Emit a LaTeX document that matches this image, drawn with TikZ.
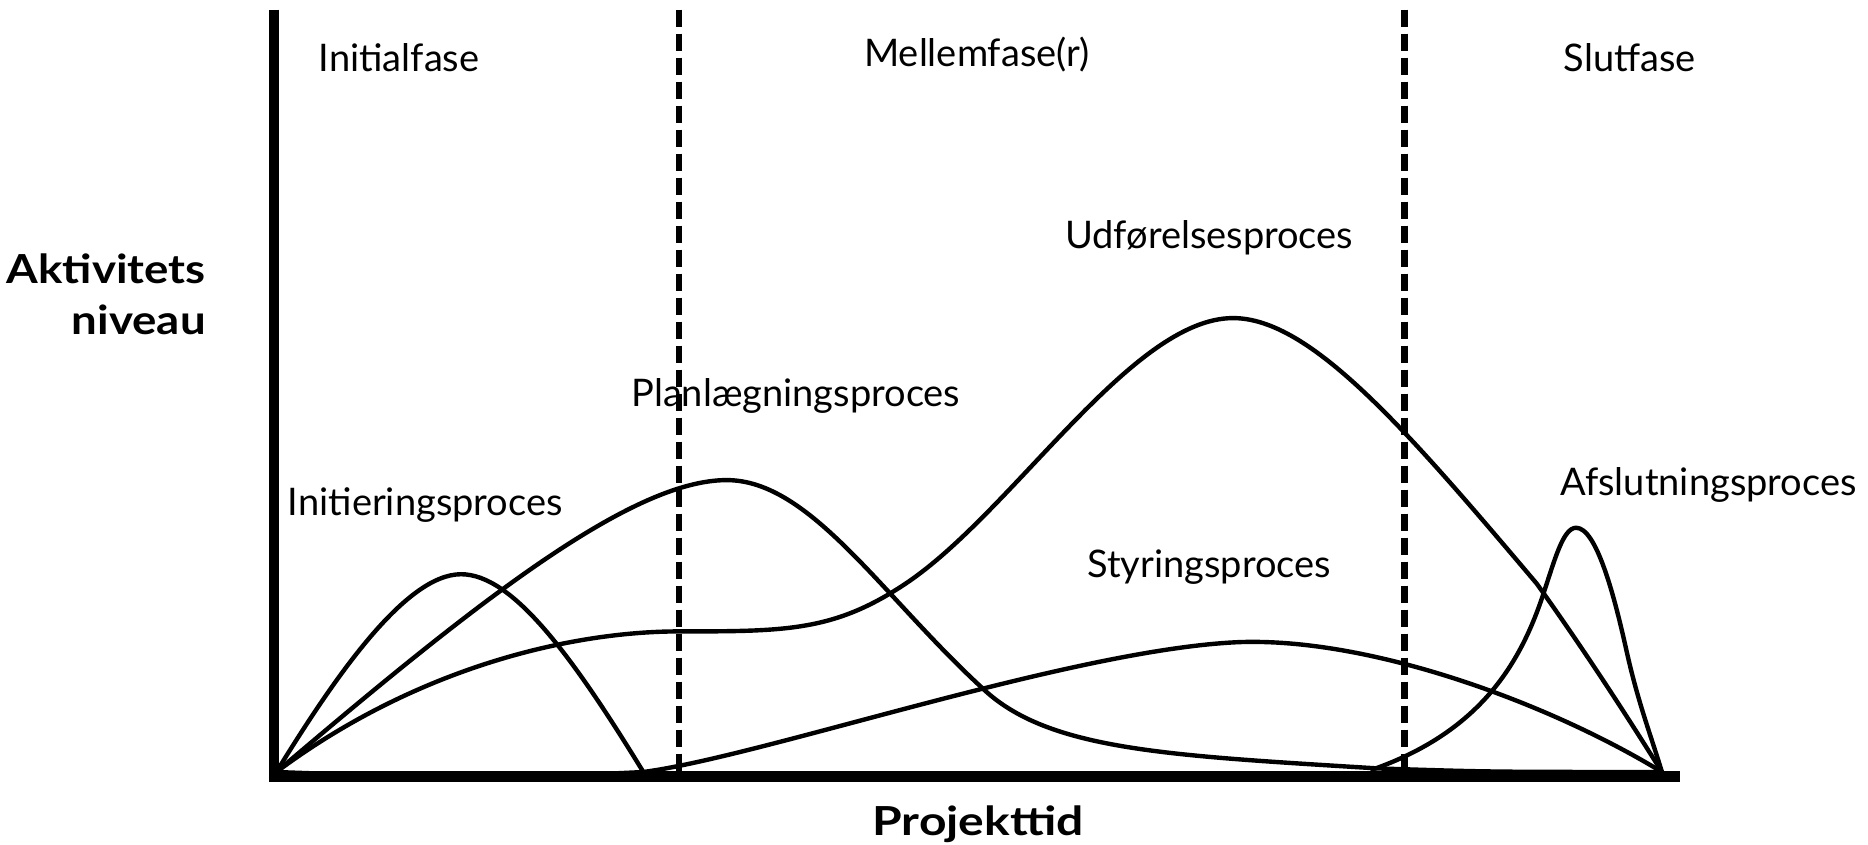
\documentclass[tikz,border=0pt]{standalone}
\usepackage{fontspec}
\setmainfont{Lato}
\begin{document}
\begin{tikzpicture}[x=0.59566pt,y=-0.59566pt,
  lbl/.style={font=\fontsize{19}{23}\selectfont, inner sep=0pt},
  axlbl/.style={font=\fontsize{20}{24}\selectfont\bfseries, inner sep=0pt},
  axisline/.style={line width=5.4pt},
  divider/.style={line width=3.2pt, dash pattern=on 8.8pt off 3.2pt},
  curve/.style={line width=2.2pt, line join=round, line cap=round}]
\useasboundingbox (0,0) rectangle (1568,708.46);
\fill[white] (0,0) rectangle (1568,708.46);

% axes
\coordinate (O) at (232,648);
\coordinate (E) at (1395,648);
\coordinate (ytop) at (230,8);
\coordinate (ybot) at (230,656);
\coordinate (xleft) at (228,652);
\coordinate (xright) at (1410,652);
\draw[axisline] (ytop) -- (ybot);
\draw[axisline] (xleft) -- (xright);

% phase dividers
\coordinate (d1t) at (570,8);
\coordinate (d1b) at (570,648);
\coordinate (d2t) at (1179,8);
\coordinate (d2b) at (1179,648);
\draw[divider] (d1t) -- (d1b);
\draw[divider] (d2t) -- (d2b);

% phase names
\node[lbl] (initial) at (335,48) {Initialfase};
\node[lbl] (mellem) at (820,46) {Mellemfase(r)};
\node[lbl] (slut) at (1368,48) {Slutfase};

% axis titles
\node[axlbl, anchor=base east] (yl1) at (173,238) {\scalebox{1.14}[1]{Aktivitets}};
\node[axlbl, anchor=base east] (yl2) at (173,281) {\scalebox{1.14}[1]{niveau}};
\node[axlbl, anchor=base] (xl) at (821,701) {\scalebox{1.2}[1]{Projekttid}};

% process names
\node[lbl] (udf) at (1015,200) {Udførelsesproces};
\node[lbl] (plan) at (668,332) {Planlægningsproces};
\node[lbl] (init) at (357,424) {Initieringsproces};
\node[lbl] (styr) at (1015,476) {Styringsproces};
\node[lbl] (afsl) at (1434,407) {Afslutningsproces};

% Initieringsproces
\draw[curve] (O) .. controls (280,570) and (340,482) .. (387,482)
  .. controls (430,482) and (480,550) .. (540,648);

% Planlægningsproces
\draw[curve] (O) .. controls (400,505) and (530,403) .. (610,403)
  .. controls (680,403) and (740,500) .. (825,578)
  .. controls (880,630) and (980,634) .. (1156,645)
  .. controls (1250,648) .. (E);

% Udførelsesproces
\draw[curve] (O) .. controls (350,560) and (480,530) .. (570,530)
  .. controls (660,530) and (700,530) .. (760,490)
  .. controls (850,430) and (950,267) .. (1035,267)
  .. controls (1100,267) and (1180,360) .. (1290,490)
  .. controls (1330,546) and (1365,600) .. (E);

% Styringsproces
\draw[curve] (O) .. controls (330,652) and (450,653) .. (540,648)
  .. controls (640,635) and (900,545) .. (1040,539)
  .. controls (1150,535) and (1300,590) .. (E);

% Afslutningsproces
\draw[curve] (1152,646) .. controls (1240,615) and (1275,560) .. (1295,500)
  .. controls (1305,470) and (1312,443) .. (1323,443)
  .. controls (1340,443) and (1355,500) .. (1365,545)
  .. controls (1375,590) and (1385,615) .. (E);
\end{tikzpicture}
\end{document}
